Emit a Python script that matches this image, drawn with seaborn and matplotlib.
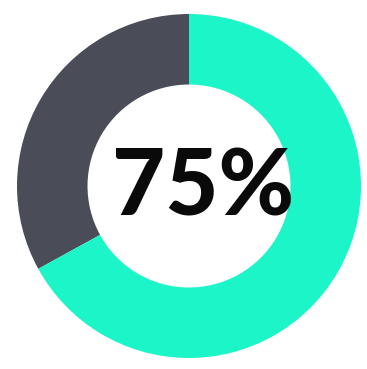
import matplotlib
matplotlib.use("Agg")
import matplotlib.pyplot as plt
import seaborn as sns

sns.set_theme(style="white")
plt.rcParams['font.family'] = ['Lato', 'DejaVu Sans']

labels = ["Other", "Share"]
values = [33, 67]
colors = ["#4A4D57", "#1CF5C8"]
center_text = "75%"

W, H = 367, 369
fig = plt.figure(figsize=(W / 100, H / 100), dpi=100)
cx, cy, r = 189, 186, 172
ax = fig.add_axes([(cx - r) / W, (H - cy - r) / H, 2 * r / W, 2 * r / H])
ax.pie(values, colors=colors, startangle=90, counterclock=True,
       radius=1.0, wedgeprops=dict(width=0.41, linewidth=0))
ax.set_xlim(-1, 1)
ax.set_ylim(-1, 1)
ax.set_aspect('auto')
ax.axis('off')
ax.text(0.08, -0.02, center_text, ha='center', va='center', fontsize=66,
        fontweight='black', color='#0A0A0A')
fig.savefig("out.png", dpi=100, facecolor="white")
